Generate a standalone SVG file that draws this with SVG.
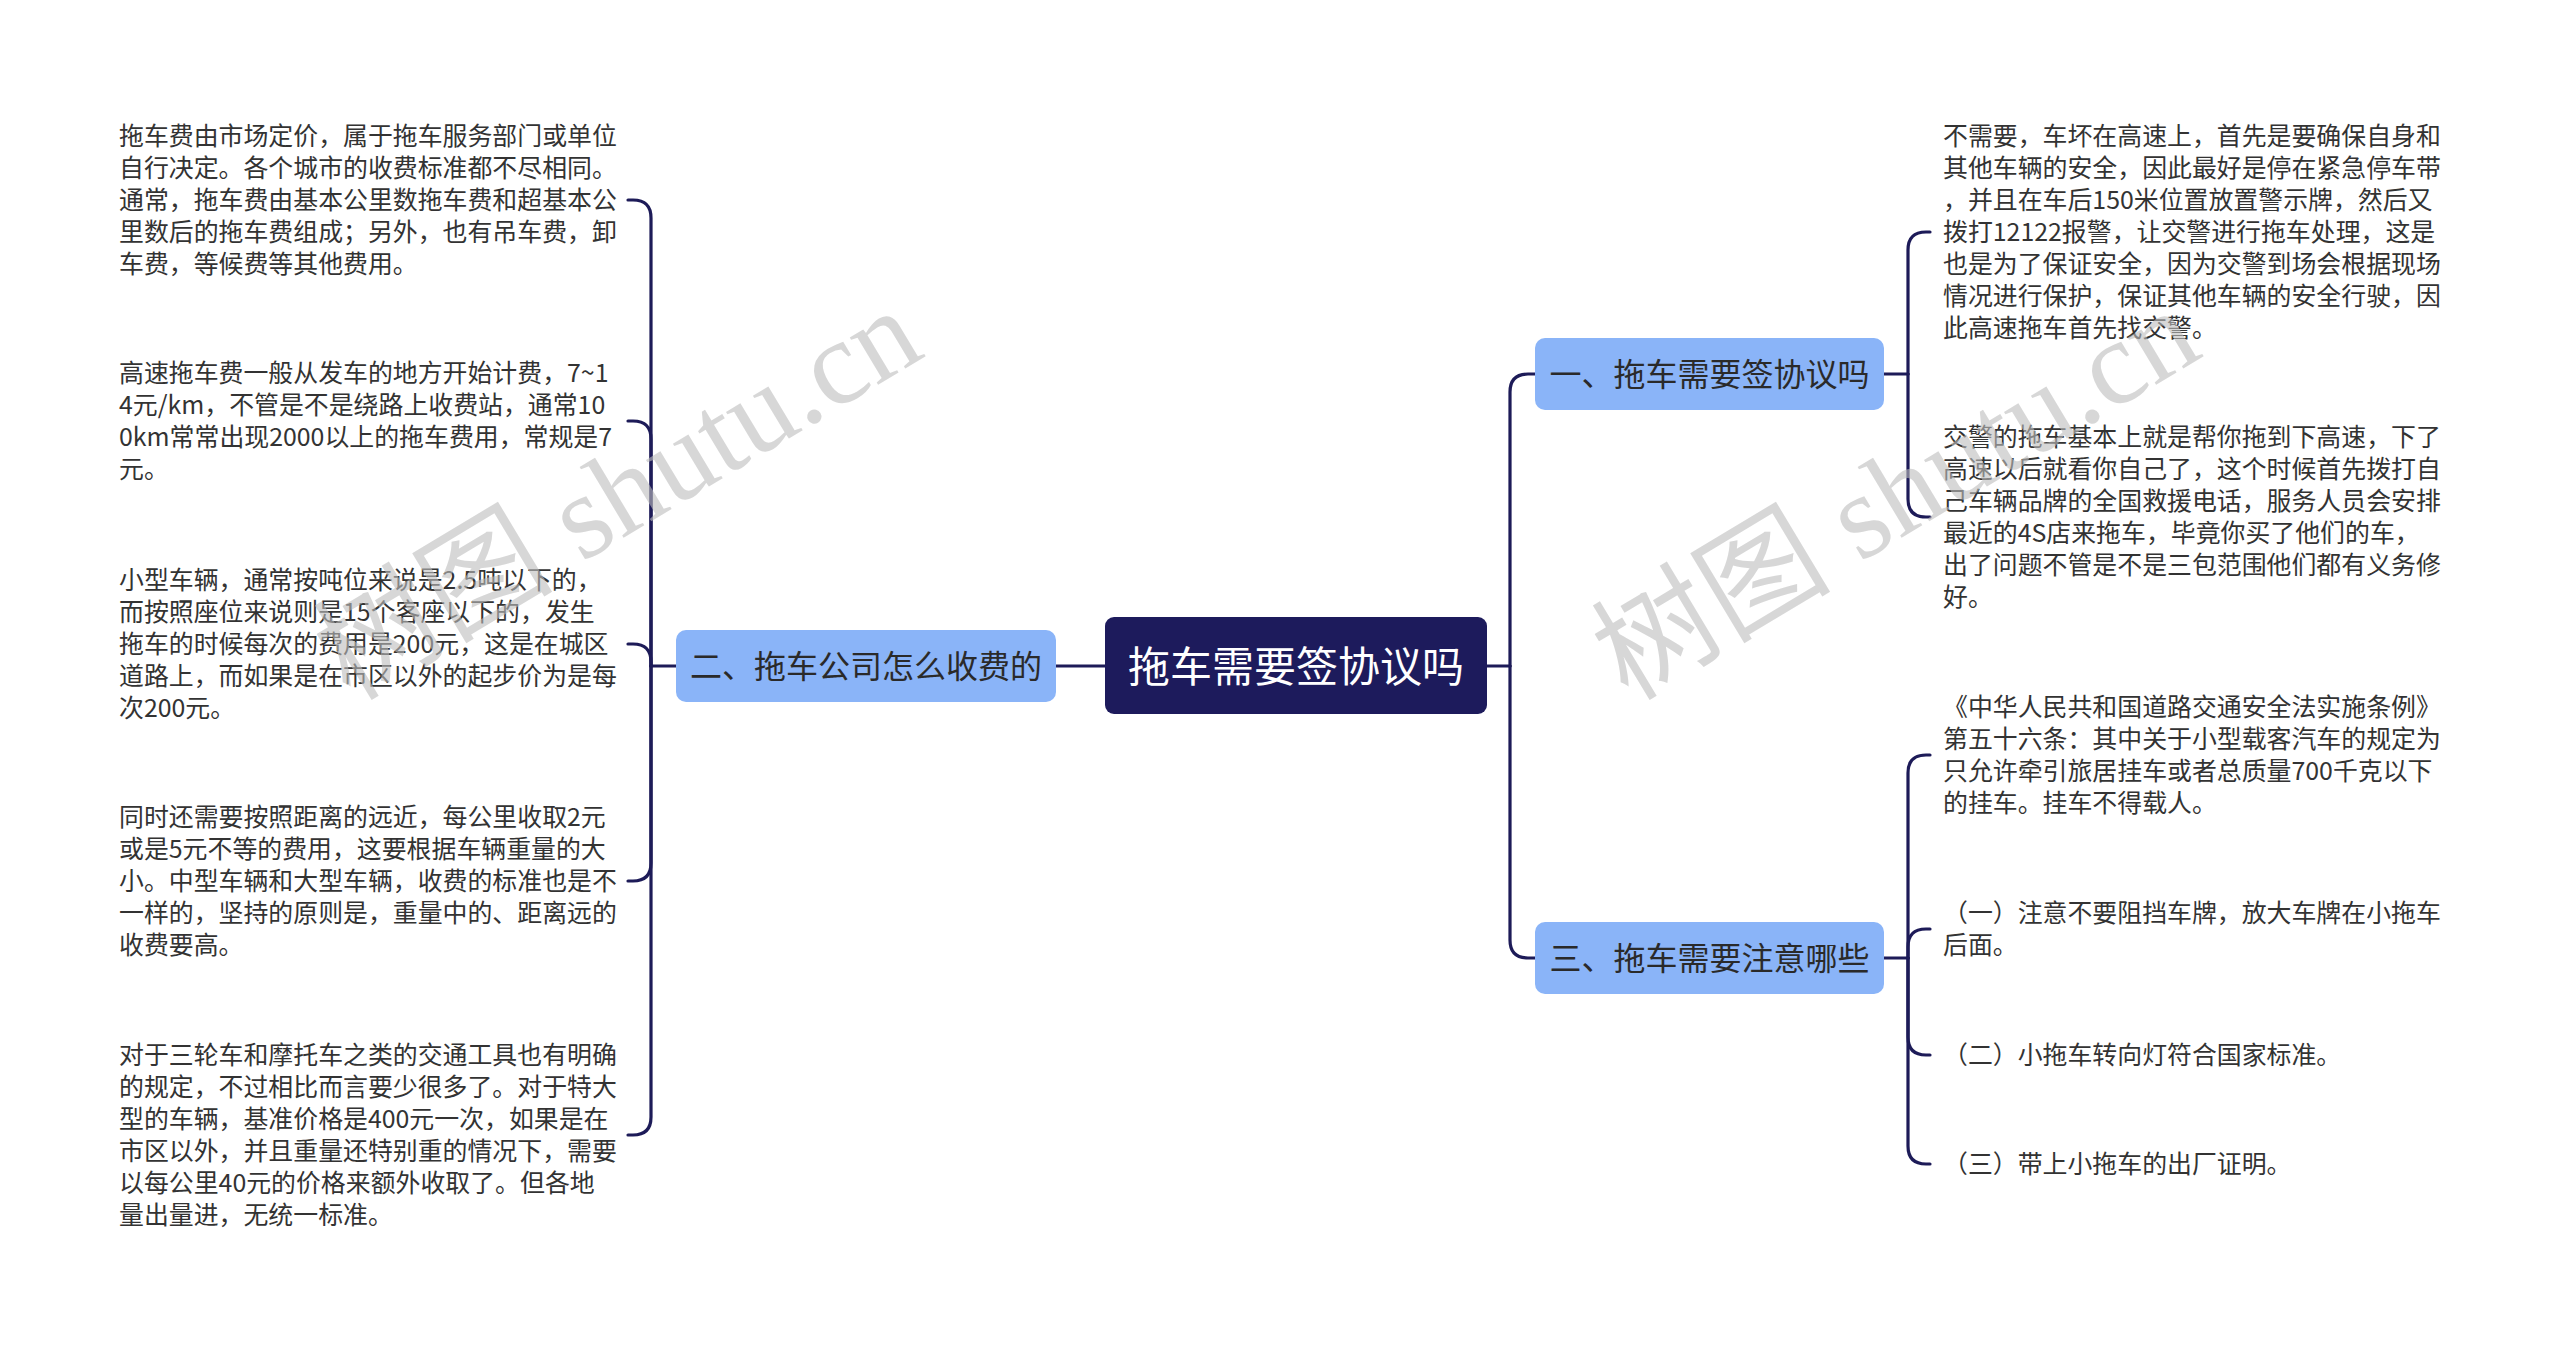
<svg xmlns="http://www.w3.org/2000/svg" width="2560" height="1349" viewBox="0 0 2560 1349">
<style>
.bg{fill:#ffffff}
.ln{fill:none;stroke:#1d1b58;stroke-width:3.2;stroke-linecap:round}
.root{fill:#1d1b5c}
.br{fill:#8ab4f8}
.tRoot{font-family:"Noto Sans CJK SC",sans-serif;font-size:42px;fill:#ffffff;text-anchor:middle}
.tBr{font-family:"Noto Sans CJK SC",sans-serif;font-size:32px;fill:#2a2a2a;text-anchor:middle}
.tLf{font-family:"Noto Sans CJK SC",sans-serif;font-size:24.9px;fill:#333333}
.wm{font-family:"Liberation Serif","Noto Sans CJK SC",serif;font-size:120px;fill:#bdbdbd;fill-opacity:0.6}
</style>
<rect class="bg" x="0" y="0" width="2560" height="1349"/>

<g id="connectors">
  <path class="ln" d="M1105,666 H1056"/>
  <path class="ln" d="M676,666 H651"/>
  <path class="ln" d="M651,666 V218 Q651,200 633,200 H628"/>
  <path class="ln" d="M651,666 V439 Q651,421 633,421 H628"/>
  <path class="ln" d="M651,666 V662 Q651,644 633,644 H628"/>
  <path class="ln" d="M651,666 V863 Q651,881 633,881 H628"/>
  <path class="ln" d="M651,666 V1117 Q651,1135 633,1135 H628"/>
  <path class="ln" d="M1487,666 H1510"/>
  <path class="ln" d="M1510,666 V392 Q1510,374 1528,374 H1535"/>
  <path class="ln" d="M1510,666 V940 Q1510,958 1528,958 H1535"/>
  <path class="ln" d="M1884,374 H1908"/>
  <path class="ln" d="M1908,374 V250 Q1908,232 1926,232 H1930"/>
  <path class="ln" d="M1908,374 V499 Q1908,517 1926,517 H1930"/>
  <path class="ln" d="M1884,958 H1908"/>
  <path class="ln" d="M1908,958 V773 Q1908,755 1926,755 H1930"/>
  <path class="ln" d="M1908,958 V947 Q1908,929 1926,929 H1930"/>
  <path class="ln" d="M1908,958 V1037 Q1908,1055 1926,1055 H1930"/>
  <path class="ln" d="M1908,958 V1146 Q1908,1164 1926,1164 H1930"/>
</g>

<g id="root">
  <rect class="root" x="1105" y="617" width="382" height="97" rx="9"/>
  <text class="tRoot" x="1296" y="682">拖车需要签协议吗</text>
</g>

<g id="branch2">
  <rect class="br" x="676" y="630" width="380" height="72" rx="10"/>
  <text class="tBr" x="866" y="678">二、拖车公司怎么收费的</text>
</g>

<g id="branch1">
  <rect class="br" x="1535" y="338" width="349" height="72" rx="10"/>
  <text class="tBr" x="1709.5" y="386">一、拖车需要签协议吗</text>
</g>

<g id="branch3">
  <rect class="br" x="1535" y="922" width="349" height="72" rx="10"/>
  <text class="tBr" x="1709.5" y="970">三、拖车需要注意哪些</text>
</g>

<g id="leafL1">
  <text class="tLf" x="119" y="145">拖车费由市场定价，属于拖车服务部门或单位</text>
  <text class="tLf" x="119" y="177">自行决定。各个城市的收费标准都不尽相同。</text>
  <text class="tLf" x="119" y="209">通常，拖车费由基本公里数拖车费和超基本公</text>
  <text class="tLf" x="119" y="241">里数后的拖车费组成；另外，也有吊车费，卸</text>
  <text class="tLf" x="119" y="273">车费，等候费等其他费用。</text>
</g>

<g id="leafL2">
  <text class="tLf" x="119" y="382">高速拖车费一般从发车的地方开始计费，7~1</text>
  <text class="tLf" x="119" y="414">4元/km，不管是不是绕路上收费站，通常10</text>
  <text class="tLf" x="119" y="446">0km常常出现2000以上的拖车费用，常规是7</text>
  <text class="tLf" x="119" y="478">元。</text>
</g>

<g id="leafL3">
  <text class="tLf" x="119" y="589">小型车辆，通常按吨位来说是2.5吨以下的，</text>
  <text class="tLf" x="119" y="621">而按照座位来说则是15个客座以下的，发生</text>
  <text class="tLf" x="119" y="653">拖车的时候每次的费用是200元，这是在城区</text>
  <text class="tLf" x="119" y="685">道路上，而如果是在市区以外的起步价为是每</text>
  <text class="tLf" x="119" y="717">次200元。</text>
</g>

<g id="leafL4">
  <text class="tLf" x="119" y="826">同时还需要按照距离的远近，每公里收取2元</text>
  <text class="tLf" x="119" y="858">或是5元不等的费用，这要根据车辆重量的大</text>
  <text class="tLf" x="119" y="890">小。中型车辆和大型车辆，收费的标准也是不</text>
  <text class="tLf" x="119" y="922">一样的，坚持的原则是，重量中的、距离远的</text>
  <text class="tLf" x="119" y="954">收费要高。</text>
</g>

<g id="leafL5">
  <text class="tLf" x="119" y="1064">对于三轮车和摩托车之类的交通工具也有明确</text>
  <text class="tLf" x="119" y="1096">的规定，不过相比而言要少很多了。对于特大</text>
  <text class="tLf" x="119" y="1128">型的车辆，基准价格是400元一次，如果是在</text>
  <text class="tLf" x="119" y="1160">市区以外，并且重量还特别重的情况下，需要</text>
  <text class="tLf" x="119" y="1192">以每公里40元的价格来额外收取了。但各地</text>
  <text class="tLf" x="119" y="1224">量出量进，无统一标准。</text>
</g>

<g id="leafR1">
  <text class="tLf" x="1943" y="145">不需要，车坏在高速上，首先是要确保自身和</text>
  <text class="tLf" x="1943" y="177">其他车辆的安全，因此最好是停在紧急停车带</text>
  <text class="tLf" x="1943" y="209">，并且在车后150米位置放置警示牌，然后又</text>
  <text class="tLf" x="1943" y="241">拨打12122报警，让交警进行拖车处理，这是</text>
  <text class="tLf" x="1943" y="273">也是为了保证安全，因为交警到场会根据现场</text>
  <text class="tLf" x="1943" y="305">情况进行保护，保证其他车辆的安全行驶，因</text>
  <text class="tLf" x="1943" y="337">此高速拖车首先找交警。</text>
</g>

<g id="leafR2">
  <text class="tLf" x="1943" y="446">交警的拖车基本上就是帮你拖到下高速，下了</text>
  <text class="tLf" x="1943" y="478">高速以后就看你自己了，这个时候首先拨打自</text>
  <text class="tLf" x="1943" y="510">己车辆品牌的全国救援电话，服务人员会安排</text>
  <text class="tLf" x="1943" y="542">最近的4S店来拖车，毕竟你买了他们的车，</text>
  <text class="tLf" x="1943" y="574">出了问题不管是不是三包范围他们都有义务修</text>
  <text class="tLf" x="1943" y="606">好。</text>
</g>

<g id="leafR3">
  <text class="tLf" x="1943" y="716">《中华人民共和国道路交通安全法实施条例》</text>
  <text class="tLf" x="1943" y="748">第五十六条：其中关于小型载客汽车的规定为</text>
  <text class="tLf" x="1943" y="780">只允许牵引旅居挂车或者总质量700千克以下</text>
  <text class="tLf" x="1943" y="812">的挂车。挂车不得载人。</text>
</g>

<g id="leafR4">
  <text class="tLf" x="1943" y="922">（一）注意不要阻挡车牌，放大车牌在小拖车</text>
  <text class="tLf" x="1943" y="954">后面。</text>
</g>

<g id="leafR5">
  <text class="tLf" x="1943" y="1064">（二）小拖车转向灯符合国家标准。</text>
</g>

<g id="leafR6">
  <text class="tLf" x="1943" y="1173">（三）带上小拖车的出厂证明。</text>
</g>

<g id="watermarks">
  <text class="wm" transform="translate(350,702) rotate(-31)">树图 shutu.cn</text>
  <text class="wm" transform="translate(1628,702) rotate(-31)">树图 shutu.cn</text>
</g>
</svg>
